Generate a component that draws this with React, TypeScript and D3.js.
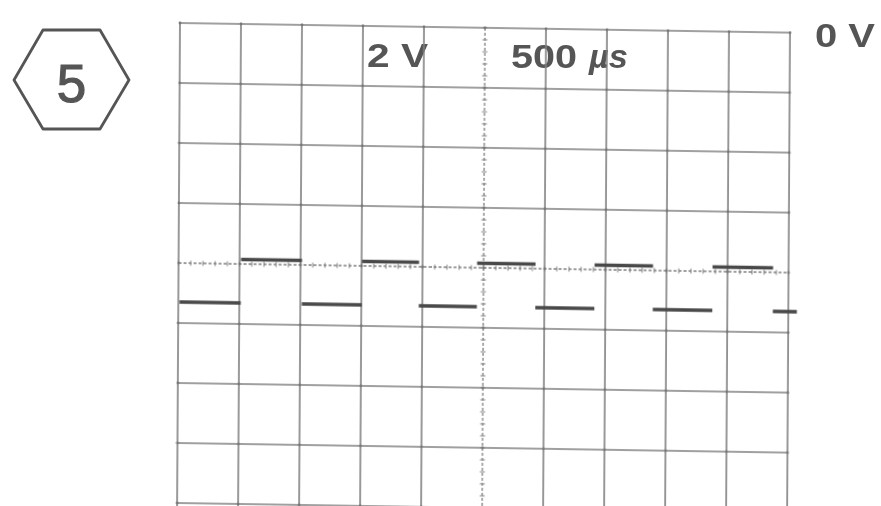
import React from "react";
import * as d3 from "d3";

// ---- data ----
const voltsPerDiv = 2; // "2 V"
const timePerDiv = 500; // "500 µs"
const divsX = 10;
const divsY = 8;
const zeroLevel = 0; // "0 V" at top graticule line
// transition times (µs) of the square wave
const transitions = [10, 512, 1012, 1504, 1971, 2447, 2926, 3410, 3889, 4377, 4873, 5070];
// levels (V) alternating, starting low
const levels = [-9.3, -7.85, -9.3, -7.85, -9.3, -7.85, -9.3, -7.85, -9.3, -7.85, -9.3];
const labelVolts = "2 V";
const labelTime = "500";
const labelTimeUnit = "µs";
const labelZero = "0 V";
const badge = "5";

export default function App() {
  const W = 881, H = 506;
  const x0 = 180, x1 = 790, y0 = 23, y1 = 503;
  const x = d3.scaleLinear().domain([0, divsX * timePerDiv]).range([x0, x1]);
  const y = d3.scaleLinear().domain([zeroLevel, zeroLevel - divsY * voltsPerDiv]).range([y0, y1]);
  const xTicks = d3.range(0, divsX + 1).map((i) => i * timePerDiv);
  const yTicks = d3.range(0, divsY + 1).map((i) => zeroLevel - i * voltsPerDiv);
  const cx = x((divsX / 2) * timePerDiv);
  const cy = y(zeroLevel - (divsY / 2) * voltsPerDiv);
  const minorX = d3.range(0, divsX * 5 + 1).map((i) => (i * timePerDiv) / 5);
  const minorY = d3.range(0, divsY * 5 + 1).map((i) => zeroLevel - (i * voltsPerDiv) / 5);
  const grid = "#808080";
  const ink = "#484848";
  const font = "'Liberation Sans', Arial, sans-serif";

  const segs = levels.map((v, i) => ({ t0: transitions[i], t1: transitions[i + 1], v }));
  const line = d3.line<[number, number]>().x((d) => x(d[0])).y((d) => y(d[1]));

  // hexagon
  const hex: [number, number][] = [
    [14, 80], [43, 30], [100, 30], [129, 80], [100, 129], [43, 129],
  ];

  return (
    <svg width={W} height={H} style={{ position: "fixed", left: 0, top: 0, background: "#fff" }}>
      <defs>
        <filter id="blur" x="-5%" y="-5%" width="110%" height="110%">
          <feGaussianBlur stdDeviation="0.55" />
        </filter>
      </defs>
      <rect width={W} height={H} fill="#fff" />
      <g filter="url(#blur)">
        <polygon
          points={hex.map((p) => p.join(",")).join(" ")}
          fill="none"
          stroke="#555"
          strokeWidth={2.8}
          strokeLinejoin="round"
        />
        <text x={71.5} y={102} textAnchor="middle" fontFamily={font} fontSize={53} fill="#555"
          stroke="#555" strokeWidth={1.2}>
          {badge}
        </text>
        <text x={367} y={66.5} fontFamily={font} fontSize={34} fontWeight="bold" fill="#555"
          textLength={61} lengthAdjust="spacingAndGlyphs">
          {labelVolts}
        </text>
        <text x={511} y={68} fontFamily={font} fontSize={34} fontWeight="bold" fill="#555"
          textLength={66} lengthAdjust="spacingAndGlyphs">
          {labelTime}
        </text>
        <text x={589} y={68} fontFamily={font} fontSize={34} fontWeight="bold" fill="#555"
          fontStyle="italic" textLength={39} lengthAdjust="spacingAndGlyphs">
          {labelTimeUnit}
        </text>
        <text x={815} y={47} fontFamily={font} fontSize={33} fontWeight="bold" fill="#555"
          textLength={60} lengthAdjust="spacingAndGlyphs">
          {labelZero}
        </text>

        <g transform="matrix(1,0.0158,-0.006,1,0.138,-2.844)">
          {xTicks.map((t, i) => {
            const isC = i === divsX / 2;
            return (
              <line key={"vx" + i} x1={x(t)} x2={x(t)} y1={y0} y2={y1 + 6}
                stroke={grid} strokeWidth={isC ? 1.3 : 1.6}
                strokeDasharray={isC ? "3,2" : undefined} />
            );
          })}
          {yTicks.map((v, i) => {
            const isC = i === divsY / 2;
            return (
              <line key={"hy" + i} x1={x0} x2={x1} y1={y(v)} y2={y(v)}
                stroke={grid} strokeWidth={isC ? 1.3 : 1.6}
                strokeDasharray={isC ? "3,2" : undefined} />
            );
          })}
          {minorX.map((t, i) => (
            <line key={"mx" + i} x1={x(t)} x2={x(t)} y1={cy - 2.5} y2={cy + 2.5} stroke={grid} strokeWidth={1} />
          ))}
          {minorY.map((v, i) => (
            <line key={"my" + i} x1={cx - 2.5} x2={cx + 2.5} y1={y(v)} y2={y(v)} stroke={grid} strokeWidth={1} />
          ))}
          {yTicks.map((v, i) =>
            xTicks.map((t, j) => (
              <circle key={"d" + i + "-" + j} cx={x(t)} cy={y(v)} r={1.4} fill="#777" />
            ))
          )}
          {segs.map((s, i) => (
            <path key={"s" + i}
              d={line([[s.t0, s.v], [s.t1, s.v]]) || ""}
              stroke={ink} strokeWidth={3.6} fill="none" />
          ))}
        </g>
      </g>
    </svg>
  );
}
